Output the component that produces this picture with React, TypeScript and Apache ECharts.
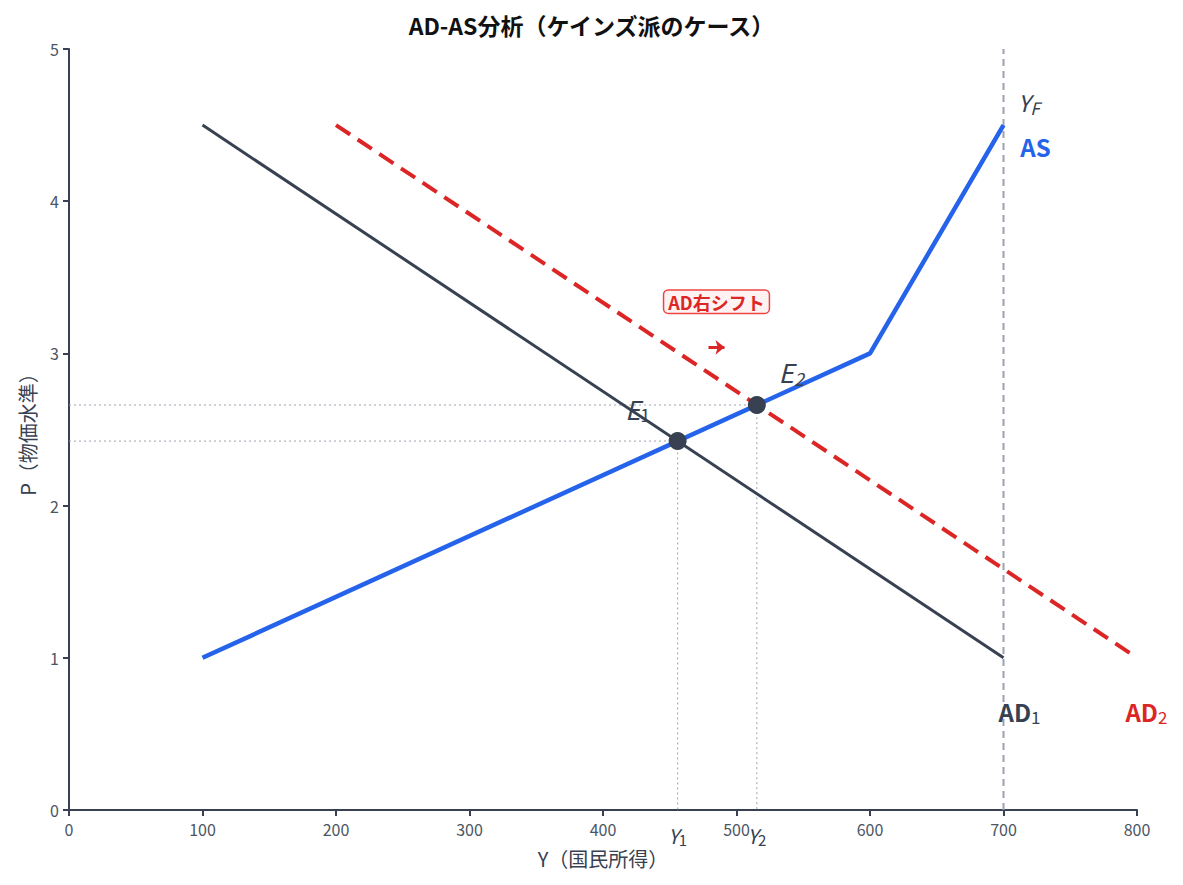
import React, { useEffect, useRef } from "react";
import * as echarts from "echarts";

const adOne: [number, number][] = [[100, 4.5], [700, 1]];
const adTwo: [number, number][] = [[200, 4.5], [800, 1]];
const asCurve: [number, number][] = [[100, 1], [600, 3], [700, 4.5]];
const eqOne: [number, number] = [455.9, 2.424];
const eqTwo: [number, number] = [515.25, 2.661];
const yFull = 700;
const xTicks = [0, 100, 200, 300, 400, 500, 600, 700, 800];
const yTicks = [0, 1, 2, 3, 4, 5];

const FONT = "'Noto Sans CJK JP', 'Noto Sans', sans-serif";
const DARK = "#374151";
const BLUE = "#2563eb";
const RED = "#dc2626";
const GREY = "#9ca3af";

export default function App() {
  const ref = useRef<HTMLDivElement>(null);
  useEffect(() => {
    document.body.style.margin = "0";
    const chart = echarts.init(ref.current!, undefined, { renderer: "svg" });
    const sub = (
      base: string,
      s: string,
      color: string,
      italic: boolean,
      size: number,
      subSize: number,
      subItalic = false,
      bold = false
    ) => ({
      formatter: `{a|${base}}{s|${s}}`,
      rich: {
        a: {
          fontStyle: italic ? "italic" : "normal",
          fontSize: size,
          color,
          fontFamily: FONT,
          fontWeight: bold ? "bold" : "normal",
        },
        s: {
          fontSize: subSize,
          color,
          fontFamily: FONT,
          fontStyle: subItalic ? "italic" : "normal",
          padding: [size * 0.45, 0, 0, 0],
        },
      },
    });
    const labelPoint = (pos: [number, number], lbl: any, extra: any = {}) => ({
      type: "scatter",
      data: [pos],
      symbolSize: 0,
      silent: true,
      clip: false,
      z: 10,
      itemStyle: { opacity: 1 },
      label: { show: true, position: "inside", ...lbl, ...extra },
    });
    chart.setOption({
      animation: false,
      textStyle: { fontFamily: FONT },
      title: {
        text: "AD-AS分析（ケインズ派のケース）",
        left: "center",
        top: 8,
        textStyle: { fontSize: 23, fontWeight: "bold", color: "#111", fontFamily: FONT },
      },
      grid: { left: 69, right: 46, top: 49, bottom: 75, containLabel: false },
      xAxis: {
        type: "value",
        min: xTicks[0],
        max: xTicks[xTicks.length - 1],
        interval: 100,
        name: "Y（国民所得）",
        nameLocation: "middle",
        nameGap: 38,
        nameTextStyle: { fontSize: 20, color: DARK, fontFamily: FONT },
        axisLine: { lineStyle: { color: DARK, width: 2 } },
        axisTick: { show: true, length: 6, lineStyle: { color: DARK, width: 2 } },
        axisLabel: { fontSize: 16, color: "#4b5563", margin: 11, fontFamily: FONT },
        splitLine: { show: false },
      },
      yAxis: {
        type: "value",
        min: yTicks[0],
        max: yTicks[yTicks.length - 1],
        interval: 1,
        name: "P（物価水準）",
        nameLocation: "middle",
        nameGap: 32,
        nameTextStyle: { fontSize: 20, color: DARK, fontFamily: FONT },
        axisLine: { show: true, lineStyle: { color: DARK, width: 2 } },
        axisTick: { show: true, length: 6, lineStyle: { color: DARK, width: 2 } },
        axisLabel: { fontSize: 16, color: "#4b5563", margin: 10, fontFamily: FONT },
        splitLine: { show: false },
      },
      series: [
        {
          type: "line",
          data: [[0, eqOne[1]], eqOne, [eqOne[0], 0]],
          symbol: "none",
          lineStyle: { color: GREY, width: 1, type: [2, 3] },
          z: 1,
        },
        {
          type: "line",
          data: [[0, eqTwo[1]], eqTwo, [eqTwo[0], 0]],
          symbol: "none",
          lineStyle: { color: GREY, width: 1, type: [2, 3] },
          z: 1,
        },
        {
          type: "line",
          data: [[yFull, 0], [yFull, 5]],
          symbol: "none",
          lineStyle: { color: GREY, width: 2, type: [7, 5] },
          z: 1,
        },
        {
          type: "line",
          data: adOne,
          symbol: "none",
          lineStyle: { color: DARK, width: 3 },
          z: 3,
        },
        {
          type: "line",
          data: adTwo,
          symbol: "none",
          lineStyle: { color: RED, width: 4, type: [17, 9] },
          z: 3,
          markLine: {
            silent: true,
            symbol: ["none", "arrow"],
            symbolSize: [11, 9],
            label: { show: false },
            lineStyle: { color: RED, width: 3, type: "solid" },
            data: [[{ coord: [479, 3.04] }, { coord: [491, 3.04] }]],
          },
        },
        {
          type: "line",
          data: asCurve,
          symbol: "none",
          lineStyle: { color: BLUE, width: 4.5 },
          z: 4,
        },
        {
          type: "scatter",
          data: [eqOne, eqTwo],
          symbolSize: 18,
          itemStyle: { color: DARK, opacity: 1 },
          z: 6,
        },
        labelPoint([426, 2.64], sub("E", "1", DARK, true, 26, 18)),
        labelPoint([541, 2.88], sub("E", "2", DARK, true, 26, 18, true)),
        labelPoint([719, 4.65], sub("Y", "F", DARK, true, 23, 17, true)),
        labelPoint([724, 4.36], { formatter: "AS", fontSize: 24, fontWeight: "bold", color: BLUE, fontFamily: FONT }),
        labelPoint([712, 0.65], sub("AD", "1", DARK, false, 24, 17, false, true)),
        labelPoint([807, 0.65], sub("AD", "2", RED, false, 24, 17, false, true)),
        labelPoint([eqOne[0], 0], sub("Y", "1", DARK, true, 20, 15), { position: "bottom", distance: 13 }),
        labelPoint([eqTwo[0], 0], sub("Y", "2", DARK, true, 20, 15), { position: "bottom", distance: 13 }),
        labelPoint([485, 3.34], {
          formatter: "AD右シフト",
          fontSize: 18,
          fontWeight: "bold",
          color: RED,
          fontFamily: FONT,
          backgroundColor: "#fef2f2",
          borderColor: "#ef4444",
          borderWidth: 1.5,
          borderRadius: 4,
          padding: [3, 4, 1, 4],
        }),
      ],
    });
    return () => chart.dispose();
  }, []);
  return <div ref={ref} style={{ width: 1183, height: 885, position: "absolute", left: 0, top: 0 }} />;
}
